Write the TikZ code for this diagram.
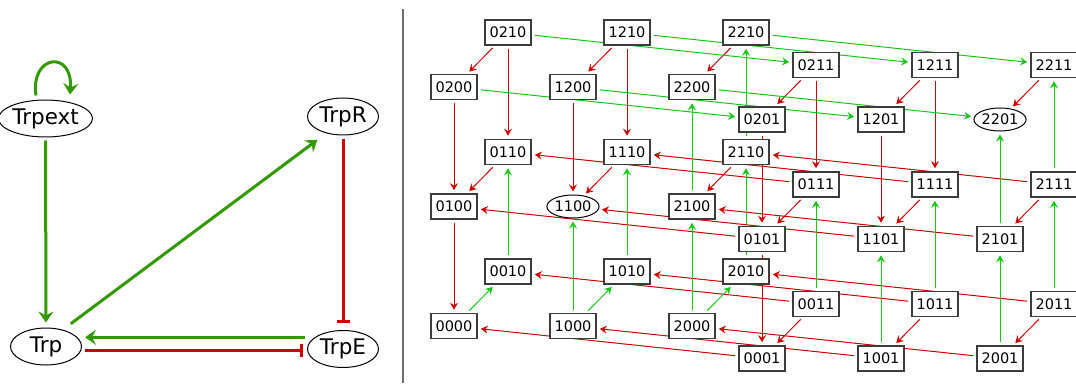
\documentclass[tikz,border=0pt]{standalone}
\usepackage{fontspec}
\setmainfont{DejaVu Sans}
\usetikzlibrary{arrows.meta,shapes.geometric}
\pgfdeclarelayer{background}
\pgfsetlayers{background,main}
\definecolor{rgreen}{RGB}{20,200,20}
\definecolor{rred}{RGB}{204,0,0}
\definecolor{lgreen}{RGB}{51,153,0}
\definecolor{lred}{RGB}{204,0,0}
\definecolor{sepgrey}{RGB}{110,110,110}
\definecolor{boxgrey}{RGB}{60,60,60}
\tikzset{
  st/.style={rectangle,draw=boxgrey,line width=1.6pt,fill=white,minimum width=46pt,minimum height=25pt,inner sep=0pt,font=\fontsize{14.5}{16}\selectfont},
  stell/.style={ellipse,draw=black,line width=1pt,fill=white,minimum width=48pt,minimum height=23pt,inner sep=0pt,font=\fontsize{14.5}{16}\selectfont},
  gene/.style={ellipse,draw=black,line width=1pt,fill=white,minimum width=71pt,minimum height=37pt,inner sep=0pt,font=\fontsize{21.5}{24}\selectfont},
  rd/.style={draw=rred,line width=1pt,-{Stealth[length=7pt,width=8pt,inset=2.5pt]},shorten >=3pt,shorten <=3pt},
  gn/.style={draw=rgreen,line width=1pt,-{Stealth[length=7pt,width=8pt,inset=2.5pt]},shorten >=3pt,shorten <=3pt},
  lact/.style={draw=lgreen,line width=3pt,-{Stealth[length=11pt,width=15pt,inset=4pt]}},
  linh/.style={draw=lred,line width=3pt,-{Bar[width=13pt,length=3pt]}},
  sepline/.style={draw=sepgrey,line width=2pt}
}
\begin{document}
\begin{tikzpicture}[x=1pt,y=-1pt]
\useasboundingbox (0,0) rectangle (1076,385);
% ---------- left panel ----------
\node[gene] (Trpext) at (45.5,118.5) {Trpext};
\node[gene] (TrpR) at (343,116.5) {TrpR};
\node[gene] (Trp) at (46,346.5) {Trp};
\node[gene] (TrpE) at (343,349) {TrpE};
\draw[lact] ([shift={(-9.5,-4)}]Trpext.north) .. controls +(-6,-41) and +(3,-45) .. ([shift={(24.5,-5)}]Trpext.north);
\draw[lact,shorten <=3pt,shorten >=5pt] (Trpext) -- (Trp);
\draw[lact,shorten <=10pt,shorten >=11pt] (Trp.45) -- (TrpR.225);
\draw[lact] ([shift={(-2,-11.7)}]TrpE.west) -- ([shift={(3,-9.2)}]Trp.east);
\draw[linh] ([shift={(3,3.5)}]Trp.east) -- ([shift={(-3.7,1)}]TrpE.west);
\draw[linh,shorten <=3.5pt,shorten >=7pt] (TrpR) -- (TrpE);
% separator
\coordinate (septop) at (402.5,9);
\coordinate (sepbot) at (402.5,383);
\draw[sepline] (septop) -- (sepbot);
% ---------- right panel: state graph ----------
\foreach \A in {0,1,2}{
 \foreach \B in {0,1,2}{
  \foreach \C in {0,1}{
   \foreach \D in {0,1}{
    \ifnum\A\B\C\D=1100 \def\sty{stell}\else\ifnum\A\B\C\D=2201 \def\sty{stell}\else\def\sty{st}\fi\fi
    \node[\sty] (s\A\B\C\D) at ({454+119*\A+54*\C+308*\D},{326-119.5*\B-54.5*\C+32.5*\D}) {\A\B\C\D};
   }
  }
 }
}
\begin{pgfonlayer}{background}
\foreach \u/\v in {0210/0200,0210/0110,0200/0100,0110/0100,0100/0000,
  1210/1200,1210/1110,1200/1100,1110/1100,
  2210/2200,2110/2100,
  0211/0201,0211/0111,0201/0101,0111/0101,0101/0001,0011/0001,
  1211/1201,1211/1111,1201/1101,1111/1101,1011/1001,
  2211/2201,2111/2101,2011/2001,
  0111/0110,1111/1110,2111/2110,0101/0100,1101/1100,2101/2100,
  0011/0010,1011/1010,2011/2010,0001/0000,1001/1000,2001/2000}
  \draw[rd] (s\u) -- (s\v);
\foreach \u/\v in {0010/0110,0000/0010,1010/1110,1000/1100,1000/1010,
  2110/2210,2100/2200,2010/2110,2000/2100,2000/2010,
  0011/0111,1011/1111,1001/1101,2111/2211,2101/2201,2011/2111,2001/2101,
  0210/0211,1210/1211,2210/2211,0200/0201,1200/1201,2200/2201}
  \draw[gn] (s\u) -- (s\v);
\end{pgfonlayer}
\end{tikzpicture}
\end{document}
